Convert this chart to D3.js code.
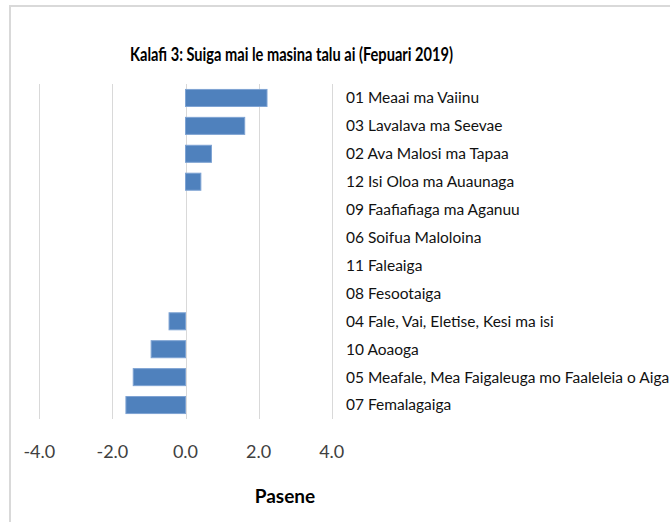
<!DOCTYPE html>
<meta charset="utf-8">
<style>
body {
  margin: 0;
  background: #fff;
  font-family: Lato, "Open Sans", sans-serif;
}
.grid line {
  stroke: #d9d9d9;
  stroke-width: 1;
}
.cat {
  font-size: 15.5px;
  fill: #111;
}
.tick-label {
  font-size: 18px;
  fill: #404040;
}
</style>
<svg width="670" height="522"></svg>
<script src="https://cdn.jsdelivr.net/npm/d3@7"></script>
<script>

var categories = [
  "01 Meaai ma Vaiinu",
  "03 Lavalava ma Seevae",
  "02 Ava Malosi ma Tapaa",
  "12 Isi Oloa ma Auaunaga",
  "09 Faafiafiaga ma Aganuu",
  "06 Soifua Maloloina",
  "11 Faleaiga",
  "08 Fesootaiga",
  "04 Fale, Vai, Eletise, Kesi ma isi",
  "10 Aoaoga",
  "05 Meafale, Mea Faigaleuga mo Faaleleia o Aiga",
  "07 Femalagaiga"
];
var values = [2.23, 1.62, 0.71, 0.42, 0, 0, 0, 0, -0.45, -0.94, -1.43, -1.63];
var xTicks = [-4, -2, 0, 2, 4];

var title = "Kalafi 3: Suiga mai le masina talu ai (Fepuari 2019)";
var xTitle = "Pasene";

var svg = d3.select("svg");

// chart frame (only top and left edges show in the crop)
svg.append("path")
    .attr("d", "M10,700V6H700")
    .attr("fill", "none")
    .attr("stroke", "#d9d9d9")
    .attr("stroke-width", 2);

var x = d3.scaleLinear()
    .domain([-4, 4])
    .range([39.3, 331.7]);

var y = d3.scaleBand()
    .domain(categories)
    .range([84, 419])
    .paddingInner(0.39)
    .paddingOuter(0.195);

// gridlines
svg.append("g").attr("class", "grid")
  .selectAll("line")
  .data(xTicks)
  .enter().append("line")
    .attr("x1", function(d){ return Math.round(x(d)) + 0.5; })
    .attr("x2", function(d){ return Math.round(x(d)) + 0.5; })
    .attr("y1", 84)
    .attr("y2", 419);

// bars
svg.append("g")
  .selectAll("rect")
  .data(values)
  .enter().append("rect")
    .attr("x", function(d){ return x(Math.min(0, d)); })
    .attr("y", function(d, i){ return y(categories[i]); })
    .attr("width", function(d){ return Math.abs(x(d) - x(0)); })
    .attr("height", y.bandwidth())
    .attr("fill", "#4f81bd")
    .attr("stroke", "#7ea3d3")
    .attr("stroke-width", 1);

// category labels sit to the right of the plot
svg.append("g")
  .selectAll("text")
  .data(categories)
  .enter().append("text")
    .attr("class", "cat")
    .attr("x", 346)
    .attr("y", function(d){ return y(d) + y.bandwidth() / 2; })
    .attr("dy", "0.35em")
    .text(function(d){ return d; });

// x tick labels (plain hyphen for the minus, like Excel)
svg.append("g")
  .selectAll("text")
  .data(xTicks)
  .enter().append("text")
    .attr("class", "tick-label")
    .attr("x", function(d){ return x(d); })
    .attr("y", 452)
    .attr("dy", "0.35em")
    .attr("text-anchor", "middle")
    .text(function(d){ return d3.format(".1f")(d).replace("\u2212", "-"); });

svg.append("text")
    .attr("x", 291.5)
    .attr("y", 55)
    .attr("dy", "0.35em")
    .attr("text-anchor", "middle")
    .attr("textLength", 323)
    .attr("lengthAdjust", "spacingAndGlyphs")
    .style("font-size", "18px")
    .style("font-weight", "bold")
    .text(title);

svg.append("text")
    .attr("x", 285)
    .attr("y", 496)
    .attr("dy", "0.35em")
    .attr("text-anchor", "middle")
    .style("font-size", "19px")
    .style("font-weight", "bold")
    .text(xTitle);

</script>
